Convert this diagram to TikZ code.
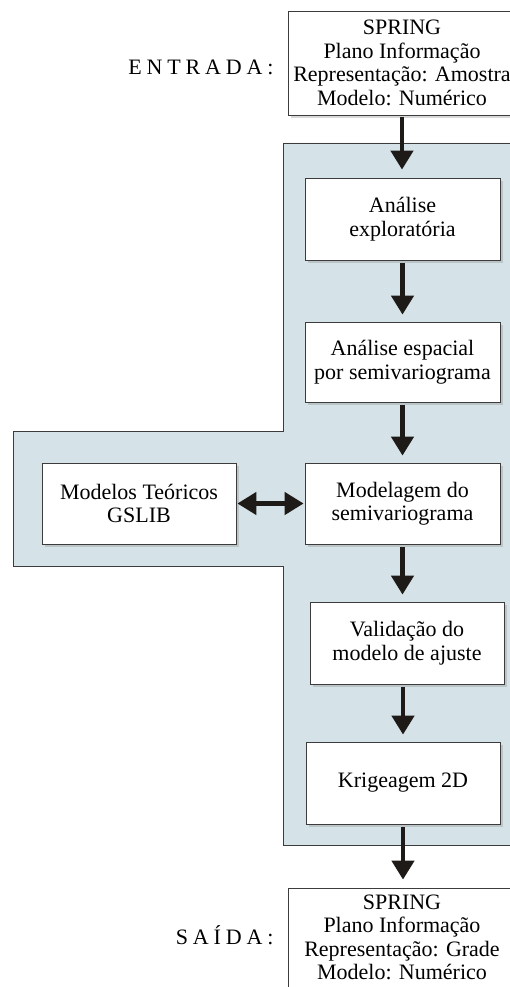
\documentclass[tikz,border=0pt]{standalone}
\usepackage{fontspec}
\setmainfont{Liberation Serif}
\usetikzlibrary{arrows.meta,shadows}
\definecolor{panel}{RGB}{213,226,231}
\definecolor{edge}{RGB}{60,60,60}
\definecolor{arrowc}{RGB}{30,26,23}
\tikzset{
  box/.style={draw=edge, line width=0.8pt, fill=white, align=center,
    inner sep=2pt, font=\fontsize{22}{23.5}\selectfont,
    drop shadow={opacity=0.3, shadow xshift=3pt, shadow yshift=-3pt}},
  flow/.style={draw=arrowc, line width=4.5pt, -{Triangle[length=19pt,width=22pt]}},
  bothflow/.style={draw=arrowc, line width=4.5pt, {Triangle[length=19pt,width=22pt]}-{Triangle[length=19pt,width=22pt]}},
  lbl/.style={font=\fontsize{22}{25}\selectfont\addfontfeatures{LetterSpace=22}, anchor=east}
}
\begin{document}
\begin{tikzpicture}[x=1pt,y=1pt]
\useasboundingbox (0,0) rectangle (510,-987);
\clip (0,0) rectangle (510,-987);
\fill[white] (0,0) rectangle (510,-987);
% panel
\draw[edge, line width=0.8pt, fill=panel]
  (520,-143) -- (283,-143) -- (283,-431) -- (13,-431) -- (13,-566)
  -- (283,-566) -- (283,-845) -- (520,-845);
% nodes
\node[box, minimum width=228pt, minimum height=104pt] (in) at (402,-63)
  {SPRING\\Plano Informação\\Representação: Amostra\\Modelo: Numérico};
\node[box, minimum width=195pt, minimum height=82pt] (b1) at (402.5,-219)
  {Análise\\exploratória};
\node[box, minimum width=195pt, minimum height=80pt] (b2) at (402.5,-362)
  {Análise espacial\\por semivariograma};
\node[box, minimum width=195pt, minimum height=81pt] (b3) at (402.5,-503.5)
  {Modelagem do\\semivariograma};
\node[box, minimum width=194pt, minimum height=81pt] (gs) at (139,-503.5)
  {Modelos Teóricos\\GSLIB};
\node[box, minimum width=194pt, minimum height=82pt] (b4) at (407,-643)
  {Validação do\\modelo de ajuste};
\node[box, minimum width=194pt, minimum height=82pt] (b5) at (403,-783)
  {Krigeagem 2D};
\node[box, minimum width=228pt, minimum height=122pt] (out) at (402,-949)
  {SPRING\\Plano Informação\\Representação: Grade\\Modelo: Numérico\\\phantom{M}};
\node[lbl] (lin) at (277,-67) {ENTRADA:};
\node[lbl] (lout) at (277,-935) {SAÍDA:};
% connectors
\coordinate (a0) at (402,-117);
\draw[flow, shorten >=8pt] (a0) -- (a0 |- b1.north);
\draw[flow, shorten <=3pt, shorten >=7pt] (b1.south) -- (b2.north);
\draw[flow, shorten <=3pt, shorten >=7pt] (b2.south) -- (b3.north);
\draw[flow, shorten <=3pt, shorten >=7pt] (b3.south) -- (b3.south |- b4.north);
\draw[flow, shorten <=3pt, shorten >=7pt] (b4.south -| b5.south) -- (b5.north);
\draw[flow, shorten <=3pt, shorten >=8pt] (b5.south) -- (b5.south |- out.north);
\draw[bothflow, shorten <=1pt, shorten >=1pt] (gs.east) -- (b3.west);
\end{tikzpicture}
\end{document}
